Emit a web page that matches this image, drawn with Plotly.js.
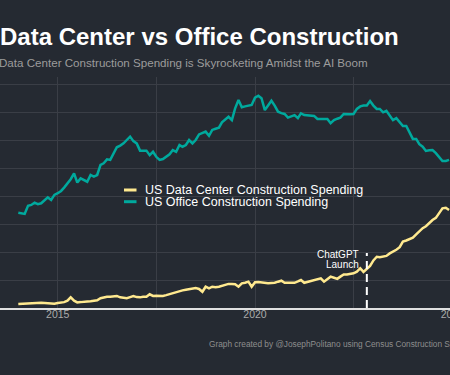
<!DOCTYPE html>
<html>
<head>
<meta charset="utf-8">
<script src="https://cdn.plot.ly/plotly-3.0.1.min.js"></script>
<style>
  html, body { margin: 0; padding: 0; background: #252A32; overflow: hidden; width: 450px; height: 375px; }
  #chart { position: absolute; left: -60px; top: 0; width: 560px; height: 375px; }
</style>
</head>
<body>
<div id="chart"></div>
<script>
// Monthly construction spending, $B (seasonally adjusted annual rate), Jan 2014 onward
const firstMonth = [2014, 1];

const dataCenterSpending = [
  1.4, 1.5, 1.6, 1.7, 1.75, 1.8, 1.85, 1.9, 1.8, 1.7,
  1.6, 1.5, 1.8, 1.9, 2.1, 2.6, 3.8, 2.6, 2.0, 2.1,
  2.3, 2.35, 2.4, 2.6, 2.75, 3.5, 3.8, 4.0, 4.0, 4.1,
  4.3, 3.8, 3.7, 3.5, 3.9, 4.3, 3.9, 3.8, 4.0, 4.0,
  4.9, 4.3, 4.4, 4.4, 4.3, 4.6, 5.0, 5.3, 5.7, 6.0,
  6.3, 6.5, 6.7, 6.9, 7.1, 6.8, 5.8, 7.6, 7.0, 7.6,
  7.4, 7.6, 7.9, 8.2, 8.6, 8.6, 8.5, 7.6, 8.8, 9.0,
  9.4, 7.6, 9.2, 9.3, 9.1, 8.8, 8.8, 8.9, 9.0, 9.4,
  9.75, 9.0, 9.0, 9.0, 9.0, 9.5, 10.0, 9.0, 9.3, 9.5,
  10.0, 10.3, 10.6, 9.4, 10.4, 11.2, 10.8, 10.4, 11.2, 12.0,
  12.0, 12.1, 12.4, 13.0, 14.2, 12.9, 13.9, 15.0, 17.0, 18.3,
  18.1, 18.3, 18.6, 19.5, 20.1, 20.8, 21.7, 23.7, 24.1, 24.5,
  25.1, 26.3, 27.5, 28.5, 29.2, 30.5, 31.4, 32.2, 33.8, 35.6,
  35.8, 35.0
];

const officeSpending = [
  34.0, 33.8, 33.6, 36.5, 36.8, 37.6, 37.1, 37.4, 38.5, 39.5,
  38.6, 40.4, 41.0, 41.8, 43.0, 44.5, 46.0, 48.1, 44.8, 46.3,
  45.6, 45.1, 47.5, 46.9, 47.5, 51.1, 51.7, 53.1, 52.9, 55.3,
  57.4, 58.0, 58.8, 60.0, 61.2, 59.6, 58.8, 56.2, 56.2, 56.2,
  54.6, 55.8, 54.0, 52.9, 53.2, 54.2, 54.9, 56.4, 55.8, 58.2,
  57.6, 58.2, 60.0, 58.8, 60.0, 62.0, 62.5, 63.0, 61.5, 63.6,
  64.0, 64.4, 66.3, 67.5, 68.3, 67.1, 71.3, 74.3, 71.7, 72.0,
  72.3, 72.5, 75.1, 75.8, 74.9, 70.7, 72.3, 74.0, 72.3, 70.1,
  69.6, 69.3, 68.0, 68.5, 68.9, 67.8, 69.5, 68.9, 68.8, 68.7,
  68.6, 67.5, 67.5, 67.5, 67.5, 66.0, 67.1, 67.6, 68.0, 69.3,
  69.2, 69.2, 69.3, 71.1, 72.0, 72.3, 72.3, 73.9, 72.3, 71.1,
  71.1, 69.9, 70.4, 68.9, 67.1, 67.8, 66.5, 65.0, 65.0, 63.0,
  60.4, 60.4, 58.5, 57.6, 56.1, 56.3, 56.4, 55.3, 54.0, 52.5,
  52.5, 52.9
];

const seriesNames = ['US Data Center Construction Spending', 'US Office Construction Spending'];
const xTickVals = ['2015-01-01', '2017-07-01', '2020-01-01', '2022-07-01', '2025-01-01'];
const xTickText = ['2015', '', '2020', '', '2025'];
const chatgptLaunch = '2022-11-01';
const chatgptLabel = ['ChatGPT', 'Launch'];

const titleText = 'Data Center vs Office Construction';
const subtitleText = 'Data Center Construction Spending is Skyrocketing Amidst the AI Boom';
const captionText = 'Graph created by @JosephPolitano using Census Construction Spending Data';

const YELLOW = '#FFE98F';
const TEAL = '#00A99D';
const BG = '#252A32';
const FONT = 'Liberation Sans, Arial, sans-serif';

function monthDates(start, n) {
  const out = [];
  for (let i = 0; i < n; i++) {
    const total = (start[0] * 12 + (start[1] - 1)) + i;
    const y = Math.floor(total / 12);
    const m = total % 12 + 1;
    out.push(y + '-' + String(m).padStart(2, '0') + '-01');
  }
  return out;
}
const months = monthDates(firstMonth, officeSpending.length);

const traces = [
  { x: months, y: dataCenterSpending, type: 'scatter', mode: 'lines', name: seriesNames[0],
    line: { color: YELLOW, width: 2.5 }, showlegend: false },
  { x: months, y: officeSpending, type: 'scatter', mode: 'lines', name: seriesNames[1],
    line: { color: TEAL, width: 2.5 }, showlegend: false }
];

// paper-coordinate helpers for the 480x231 plot area
const px = v => v / 480;
const py = v => v / 231;

const legendY = [py(118), py(106.3)];
const legendColors = [YELLOW, TEAL];

const shapes = [
  { type: 'line', xref: 'x', yref: 'y', x0: chatgptLaunch, x1: chatgptLaunch, y0: 0, y1: 19.6,
    line: { color: '#FFFFFF', width: 2, dash: '8px,5px' } }
];
const annotations = [
  { text: '<b>' + titleText + '</b>', xref: 'paper', yref: 'paper', x: px(8), y: py(271.5),
    xanchor: 'left', yanchor: 'middle', showarrow: false,
    font: { family: FONT, size: 24, color: '#FFFFFF' } },
  { text: subtitleText, xref: 'paper', yref: 'paper', x: px(7), y: py(245.3),
    xanchor: 'left', yanchor: 'middle', showarrow: false,
    font: { family: FONT, size: 11.6, color: '#9C9C9C' } },
  { text: captionText, xref: 'paper', yref: 'paper', x: px(217), y: py(-35.7),
    xanchor: 'left', yanchor: 'middle', showarrow: false,
    font: { family: FONT, size: 8.3, color: '#8E8E8E' } },
  { text: chatgptLabel[0], xref: 'x', yref: 'y', x: chatgptLaunch, y: (308 - 254.3) / 2.8,
    xanchor: 'right', yanchor: 'middle', xshift: -6, showarrow: false,
    font: { family: FONT, size: 10, color: '#FFFFFF' } },
  { text: chatgptLabel[1], xref: 'x', yref: 'y', x: chatgptLaunch, y: (308 - 264.3) / 2.8,
    xanchor: 'right', yanchor: 'middle', xshift: -6, showarrow: false,
    font: { family: FONT, size: 10, color: '#FFFFFF' } }
];

// legend: short line keys with labels
seriesNames.forEach((name, i) => {
  shapes.push({ type: 'line', xref: 'paper', yref: 'paper', x0: px(134), x1: px(146.5),
    y0: legendY[i], y1: legendY[i], line: { color: legendColors[i], width: 3 } });
  annotations.push({ text: name, xref: 'paper', yref: 'paper', x: px(153), y: legendY[i],
    xanchor: 'left', yanchor: 'middle', showarrow: false,
    font: { family: FONT, size: 12.5, color: '#FFFFFF' } });
});

const layout = {
  width: 560, height: 375,
  margin: { l: 50, r: 30, t: 77, b: 67, pad: 0 },
  paper_bgcolor: BG, plot_bgcolor: BG,
  showlegend: false,
  xaxis: {
    type: 'date', range: ['2013-04-14', '2025-06-13'],
    tickvals: xTickVals, ticktext: xTickText,
    showgrid: true, gridcolor: '#3A3E46', gridwidth: 1,
    showline: true, linecolor: '#E0E0E0', linewidth: 1.5,
    ticks: '', zeroline: false, ticklabelstandoff: -4,
    tickfont: { family: FONT, size: 10.5, color: '#AAAAAA' },
    fixedrange: true
  },
  yaxis: {
    range: [0, 82.5], dtick: 10, tick0: 0,
    showgrid: true, gridcolor: '#3A3E46', gridwidth: 1,
    showticklabels: false, ticks: '', zeroline: false, showline: false,
    fixedrange: true
  },
  shapes: shapes,
  annotations: annotations
};

Plotly.newPlot('chart', traces, layout, { displayModeBar: false, staticPlot: true });
</script>
</body>
</html>
